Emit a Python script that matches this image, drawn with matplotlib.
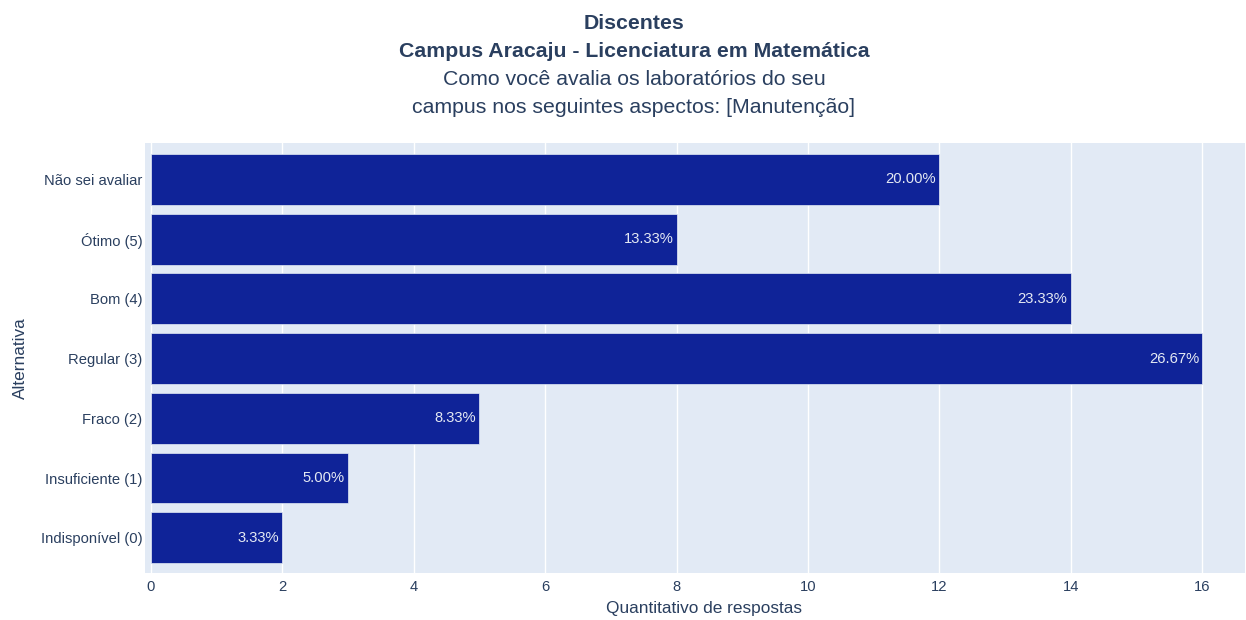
import numpy as np
import matplotlib
matplotlib.use('Agg')
from matplotlib import pyplot as plt

plt.rcParams['font.family'] = ['Liberation Sans', 'DejaVu Sans']

# top to bottom, as in the chart
categories = ['Não sei avaliar', 'Ótimo (5)', 'Bom (4)', 'Regular (3)',
              'Fraco (2)', 'Insuficiente (1)', 'Indisponível (0)']
counts = [12, 8, 14, 16, 5, 3, 2]
percent_labels = ['20.00%', '13.33%', '23.33%', '26.67%', '8.33%', '5.00%', '3.33%']
x_ticks = [0, 2, 4, 6, 8, 10, 12, 14, 16]

title_lines = ['Discentes', 'Campus Aracaju - Licenciatura em Matemática',
               'Como você avalia os laboratórios do seu',
               'campus nos seguintes aspectos: [Manutenção]']

TXT = '#2a3f5f'
BG = '#e2eaf5'
BAR = '#0f2398'

W, H = 1246, 620
fig = plt.figure(figsize=(W / 100, H / 100), dpi=100)
ax = fig.add_axes([145 / W, (H - 573) / H, 1100 / W, 430 / H])
ax.set_facecolor(BG)

pos = np.arange(len(categories))[::-1]
ax.barh(pos, counts, height=0.85, color=BAR, edgecolor=BG, linewidth=0.5, zorder=3)
for p, c, lab in zip(pos, counts, percent_labels):
    ax.text(c - 0.05, p, lab, ha='right', va='center', color='#e4e9f3',
            fontsize=10.6, zorder=4)

ax.set_xlim(-0.09, 16.65)
ax.set_ylim(-0.59, 6.61)
ax.set_xticks(x_ticks)
ax.set_yticks(pos)
ax.set_yticklabels(categories)
ax.tick_params(length=0, labelsize=10.6, colors=TXT)
ax.tick_params(axis='x', pad=5)
ax.tick_params(axis='y', pad=2)
ax.grid(axis='x', color='white', linewidth=1, zorder=1)
ax.set_axisbelow(True)
for s in ax.spines.values():
    s.set_visible(False)

ax.set_xlabel('Quantitativo de respostas', fontsize=12.4, color=TXT)
ax.set_ylabel('Alternativa', fontsize=12.4, color=TXT)
ax.xaxis.set_label_coords((704 - 145) / 1100, -(609 - 573) / 430)
ax.yaxis.set_label_coords(-(145 - 20) / 1100, 0.5)
ax.xaxis.label.set_va('center')
ax.yaxis.label.set_va('center')

ys = [23.5, 51.5, 79.5, 107.5]
for i, (line, y) in enumerate(zip(title_lines, ys)):
    fig.text(634 / W, 1 - y / H, line, ha='center', va='center', color=TXT,
             fontsize=15.3, fontweight='bold' if i < 2 else 'normal')

plt.savefig('out.png', dpi=100)
